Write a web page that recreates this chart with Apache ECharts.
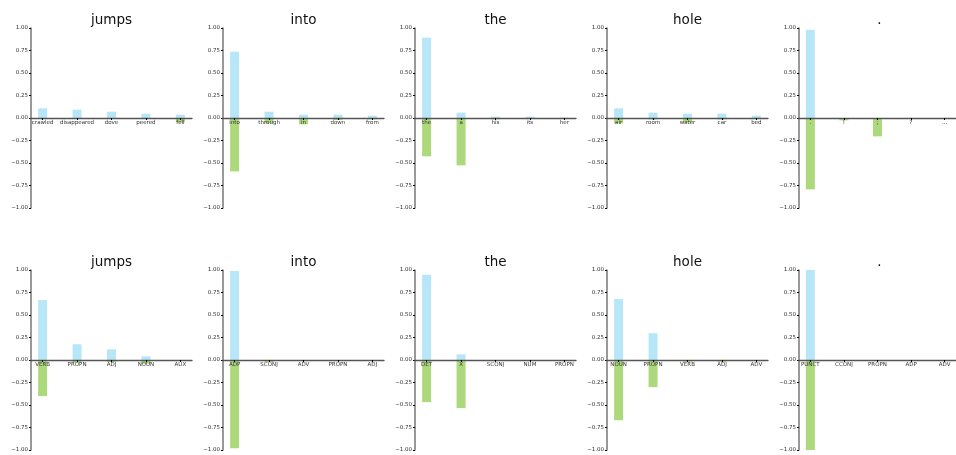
<!DOCTYPE html>
<html>
<head>
<meta charset="utf-8">
<script src="https://cdn.jsdelivr.net/npm/echarts@6/dist/echarts.min.js"></script>
<style>
  html, body { margin: 0; padding: 0; background: #fff; }
  #chart { width: 956px; height: 455px; }
</style>
</head>
<body>
<div id="chart"></div>
<script>
// panel titles (same for both rows)
const titles = ['jumps', 'into', 'the', 'hole', '.'];

// top row: word candidates
const wordCats = [
  ['crawled', 'disappeared', 'dove', 'peered', 'fell'],
  ['into', 'through', 'in', 'down', 'from'],
  ['the', 'a', 'his', 'its', 'her'],
  ['air', 'room', 'water', 'car', 'bed'],
  ['.', '!', ';', '?', '...']
];
const wordPos = [
  [0.107, 0.093, 0.070, 0.048, 0.037],
  [0.737, 0.070, 0.037, 0.037, 0.026],
  [0.893, 0.059, 0.015, 0.015, 0.005],
  [0.107, 0.059, 0.048, 0.048, 0.026],
  [0.980, 0.000, 0.000, 0.000, 0.000]
];
const wordNeg = [
  [0.000, 0.000, 0.000, 0.000, -0.048],
  [-0.593, -0.060, -0.070, -0.022, -0.015],
  [-0.426, -0.526, -0.015, -0.005, -0.008],
  [-0.060, -0.015, -0.048, -0.015, -0.005],
  [-0.793, -0.026, -0.204, -0.005, -0.005]
];

// bottom row: part-of-speech candidates
const posCats = [
  ['VERB', 'PROPN', 'ADJ', 'NOUN', 'AUX'],
  ['ADP', 'SCONJ', 'ADV', 'PROPN', 'ADJ'],
  ['DET', 'X', 'SCONJ', 'NUM', 'PROPN'],
  ['NOUN', 'PROPN', 'VERB', 'ADJ', 'ADV'],
  ['PUNCT', 'CCONJ', 'PROPN', 'ADP', 'ADV']
];
const posPos = [
  [0.665, 0.175, 0.119, 0.041, 0.000],
  [0.989, 0.000, 0.000, 0.000, 0.000],
  [0.948, 0.063, 0.000, 0.000, 0.000],
  [0.677, 0.297, 0.000, 0.000, 0.000],
  [1.000, 0.000, 0.000, 0.000, 0.000]
];
const posNeg = [
  [-0.401, -0.030, -0.022, -0.041, -0.007],
  [-0.981, -0.022, -0.010, -0.007, -0.007],
  [-0.468, -0.535, -0.010, -0.007, -0.007],
  [-0.669, -0.301, -0.019, -0.019, -0.010],
  [-1.000, -0.005, -0.005, -0.005, -0.005]
];

const FONT = 'DejaVu Sans';
const rows = [
  { cats: wordCats, pos: wordPos, neg: wordNeg, top: 28, titleTop: 13 },
  { cats: posCats, pos: posPos, neg: posNeg, top: 270, titleTop: 255 }
];

const option = {
  animation: false,
  title: [], grid: [], xAxis: [], yAxis: [], series: []
};

rows.forEach((row, r) => {
  for (let c = 0; c < 5; c++) {
    const k = r * 5 + c;
    const left = 31 + 192 * c;
    const cats = row.cats[c];
    option.grid.push({ left: left, top: row.top, width: 161, height: 180 });
    option.title.push({
      text: titles[c],
      left: left + 80.5,
      top: row.titleTop,
      padding: 0,
      textAlign: 'center',
      textStyle: { fontFamily: FONT, fontSize: 13.5, fontWeight: 'normal', color: '#111' }
    });
    // x axis sits on y = 0: pulled up half the grid height
    option.xAxis.push({
      gridIndex: k,
      type: 'value',
      min: -0.3375,
      max: 4.3375,
      offset: -90,
      z: 5,
      splitLine: { show: false },
      axisLine: { onZero: false, lineStyle: { color: '#555', width: 1.3 } },
      axisTick: {
        show: true, length: 2, inside: false,
        customValues: [0, 1, 2, 3, 4],
        lineStyle: { color: '#000', width: 1 }
      },
      axisLabel: {
        customValues: [0, 1, 2, 3, 4],
        margin: 2,
        fontFamily: FONT, fontSize: 5.5, color: '#333',
        formatter: v => cats[Math.round(v)]
      }
    });
    option.yAxis.push({
      gridIndex: k,
      type: 'value',
      min: -1, max: 1, interval: 0.25,
      splitLine: { show: false },
      axisLine: { show: true, onZero: false, lineStyle: { color: '#777', width: 1.5 } },
      axisTick: { show: true, length: 2, lineStyle: { color: '#000', width: 1 } },
      axisLabel: {
        margin: 3,
        fontFamily: FONT, fontSize: 5.5, color: '#333',
        formatter: v => (v < 0 ? '\u2212' : '') + Math.abs(v).toFixed(2)
      }
    });
    option.series.push({
      type: 'bar',
      xAxisIndex: k, yAxisIndex: k,
      barWidth: 9, barGap: '-100%',
      itemStyle: { color: '#b8e6f9' },
      data: row.pos[c].map((v, i) => [i, v])
    });
    option.series.push({
      type: 'bar',
      xAxisIndex: k, yAxisIndex: k,
      barWidth: 9, barGap: '-100%',
      itemStyle: { color: '#acd97c' },
      data: row.neg[c].map((v, i) => [i, v])
    });
  }
});

const chart = echarts.init(document.getElementById('chart'), null, { renderer: 'canvas' });
chart.setOption(option);
</script>
</body>
</html>
